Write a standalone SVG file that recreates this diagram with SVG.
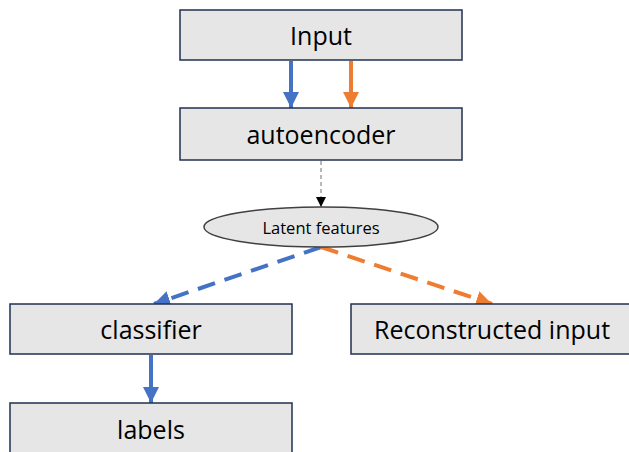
<svg xmlns="http://www.w3.org/2000/svg" width="629" height="452" viewBox="0 0 629 452">
<style>
.box{fill:#e6e6e6;stroke:#1f3050;stroke-width:1.5}
.t{font-family:"Open Sans","Liberation Sans",sans-serif;fill:#000;text-anchor:middle;dominant-baseline:central}
.big{font-size:25px}
.b{stroke:#4472c4;stroke-width:4;fill:none}
.o{stroke:#ed7d31;stroke-width:4;fill:none}
.d{stroke-dasharray:18 10}
</style>
<defs>
<marker id="ab" markerWidth="4" markerHeight="4" refX="4" refY="2" orient="auto" markerUnits="strokeWidth"><path d="M0,0 L4,2 L0,4 z" fill="#4472c4"/></marker>
<marker id="ao" markerWidth="4" markerHeight="4" refX="4" refY="2" orient="auto" markerUnits="strokeWidth"><path d="M0,0 L4,2 L0,4 z" fill="#ed7d31"/></marker>
<marker id="ak" markerWidth="10" markerHeight="10" refX="10" refY="5" orient="auto" markerUnits="userSpaceOnUse"><path d="M0,0 L10,5 L0,10 z" fill="#000"/></marker>
</defs>
<g id="connectors">
<line class="b" x1="291" y1="61" x2="291" y2="108" marker-end="url(#ab)"/>
<line class="o" x1="351" y1="61" x2="351" y2="108" marker-end="url(#ao)"/>
<line x1="321" y1="161" x2="321" y2="207" stroke="#707070" stroke-width="1" stroke-dasharray="4 3" marker-end="url(#ak)"/>
<line class="b d" x1="321" y1="247" x2="154" y2="304" marker-end="url(#ab)"/>
<line class="o d" x1="321" y1="247" x2="492" y2="304" marker-end="url(#ao)"/>
<line class="b" x1="151" y1="355" x2="151" y2="403" marker-end="url(#ab)"/>
</g>
<g id="input"><rect class="box" x="180" y="10" width="282" height="50"/><text class="t big" x="321" y="35">Input</text></g>
<g id="autoencoder"><rect class="box" x="180" y="108" width="282" height="52"/><text class="t big" x="321" y="134">autoencoder</text></g>
<g id="latent"><ellipse cx="321" cy="227" rx="117" ry="20" fill="#e6e6e6" stroke="#404040" stroke-width="1.5"/><text class="t" x="321" y="227" font-size="16.5">Latent features</text></g>
<g id="classifier"><rect class="box" x="10" y="304" width="282" height="50"/><text class="t big" x="151" y="329">classifier</text></g>
<g id="reconstructed"><rect class="box" x="351" y="304" width="282" height="50"/><text class="t big" x="492" y="329">Reconstructed input</text></g>
<g id="labels"><rect class="box" x="10" y="403" width="282" height="52"/><text class="t big" x="151" y="429">labels</text></g>
</svg>
